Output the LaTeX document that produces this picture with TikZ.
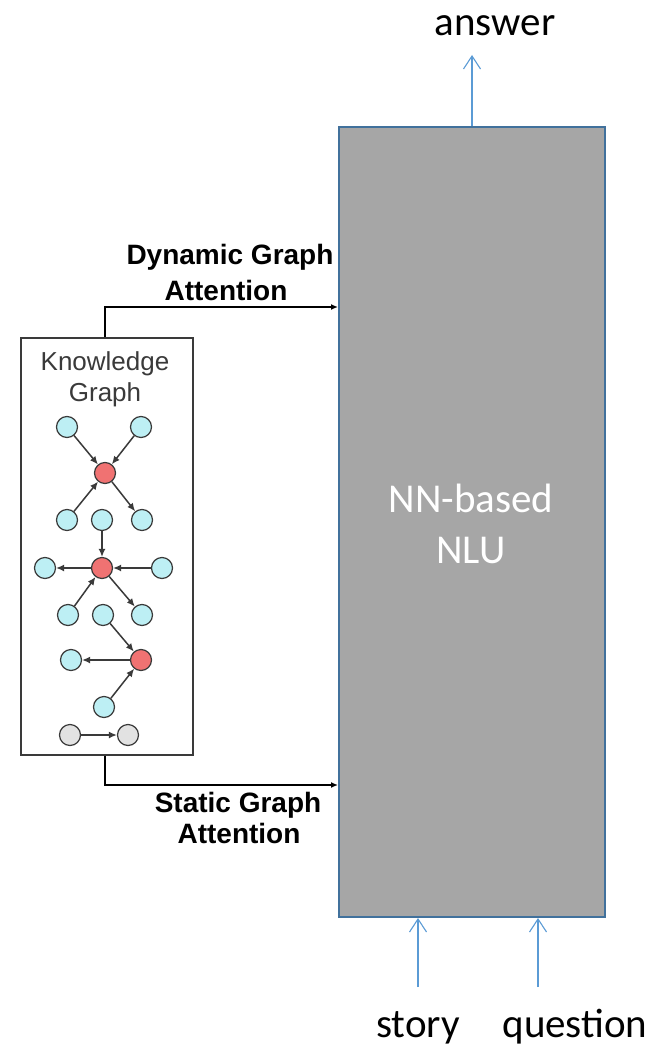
\documentclass[tikz,border=0pt]{standalone}
\usepackage{fontspec}
\setmainfont{Carlito}
\newfontfamily\arialf{Liberation Sans}
\usetikzlibrary{arrows.meta}
\definecolor{boxgray}{HTML}{A6A6A6}
\definecolor{boxblue}{HTML}{41719C}
\definecolor{arrblue}{HTML}{5B9BD5}
\definecolor{kcyan}{HTML}{BDEFF4}
\definecolor{kred}{HTML}{F07272}
\definecolor{kgray}{HTML}{E2E2E2}
\definecolor{kline}{HTML}{3A3A3A}
\tikzset{
  cnode/.style={circle,draw=kline,line width=1.2pt,fill=kcyan,minimum size=21pt,inner sep=0pt},
  rnode/.style={cnode,fill=kred},
  gnode/.style={cnode,fill=kgray},
  kedge/.style={draw=kline,line width=1.5pt,-{Latex[length=8pt,width=7pt]}},
  blk/.style={draw=black,line width=1.8pt,-{Latex[length=7pt,width=6pt]}},
  blue/.style={draw=arrblue,line width=1.2pt,-{Straight Barb[length=13pt,width=17pt,line width=1.1pt]}},
  carl/.style={font=\fontsize{41}{45}\selectfont,inner sep=0pt,anchor=base},
  bold/.style={font=\arialf\bfseries\fontsize{28}{32}\selectfont,inner sep=0pt,anchor=base},
  kg/.style={font=\arialf\fontsize{26}{30}\selectfont,text=kline,inner sep=0pt,anchor=base}
}
\begin{document}
\begin{tikzpicture}[x=1pt,y=-1pt]
\useasboundingbox (0,0) rectangle (655,1056);
% main box
\node[draw=boxblue,line width=2pt,fill=boxgray,minimum width=266pt,minimum height=790pt,inner sep=0pt,anchor=north west] (nn) at (338,126) {};
\node[carl,text=white] (nn1) at (471,512) {NN-based};
\node[carl,text=white] (nn2) at (471,563) {NLU};
% top/bottom texts
\node[carl] (ans) at (495,36) {answer};
\node[carl] (story) at (418,1037) {story};
\node[carl] (quest) at (575,1037) {question};
\coordinate (ansA) at (472,55);
\coordinate (stA) at (418,987);
\coordinate (quA) at (538,987);
\draw[blue] (nn.north -| ansA) -- (ansA);
\draw[blue] (stA) -- (stA |- nn.south);
\draw[blue] (quA) -- (quA |- nn.south);
% knowledge graph box
\node[draw=kline,line width=1.5pt,fill=white,minimum width=172pt,minimum height=417pt,inner sep=0pt,anchor=north west] (kgb) at (20,337) {};
\node[kg] (kt1) at (105,370) {Knowledge};
\node[kg] (kt2) at (105,401) {Graph};
% nodes
\node[cnode] (a1) at (67,427) {};
\node[cnode] (a2) at (141,427) {};
\node[rnode] (r1) at (105,473) {};
\node[cnode] (b1) at (67,520) {};
\node[cnode] (b2) at (102,520) {};
\node[cnode] (b3) at (142,520) {};
\node[rnode] (r2) at (102,568) {};
\node[cnode] (cl) at (45,568) {};
\node[cnode] (cr) at (162,568) {};
\node[cnode] (d1) at (68,615) {};
\node[cnode] (d2) at (103,615) {};
\node[cnode] (d3) at (142,615) {};
\node[rnode] (r3) at (141,660) {};
\node[cnode] (el) at (71,660) {};
\node[cnode] (f) at (104,707) {};
\node[gnode] (g1) at (70,735) {};
\node[gnode] (g2) at (128,735) {};
\draw[kedge] (a1) -- (r1);
\draw[kedge] (a2) -- (r1);
\draw[kedge] (b1) -- (r1);
\draw[kedge] (r1) -- (b3);
\draw[kedge] (b2) -- (r2);
\draw[kedge] (r2) -- (cl);
\draw[kedge] (cr) -- (r2);
\draw[kedge] (d1) -- (r2);
\draw[kedge] (r2) -- (d3);
\draw[kedge] (d2) -- (r3);
\draw[kedge] (r3) -- (el);
\draw[kedge] (f) -- (r3);
\draw[kedge] (g1) -- (g2);
% attention arrows
\coordinate (dyn) at (105,307);
\coordinate (sta) at (105,785);
\draw[blk] (kgb.north -| dyn) -- (dyn) -- (dyn -| nn.west);
\draw[blk] (kgb.south -| sta) -- (sta) -- (sta -| nn.west);
\node[bold] (dl1) at (230,265) {Dynamic Graph};
\node[bold] (dl2) at (226,301) {Attention};
\node[bold] (sl1) at (238,812) {Static Graph};
\node[bold] (sl2) at (239,843) {Attention};
\end{tikzpicture}
\end{document}
